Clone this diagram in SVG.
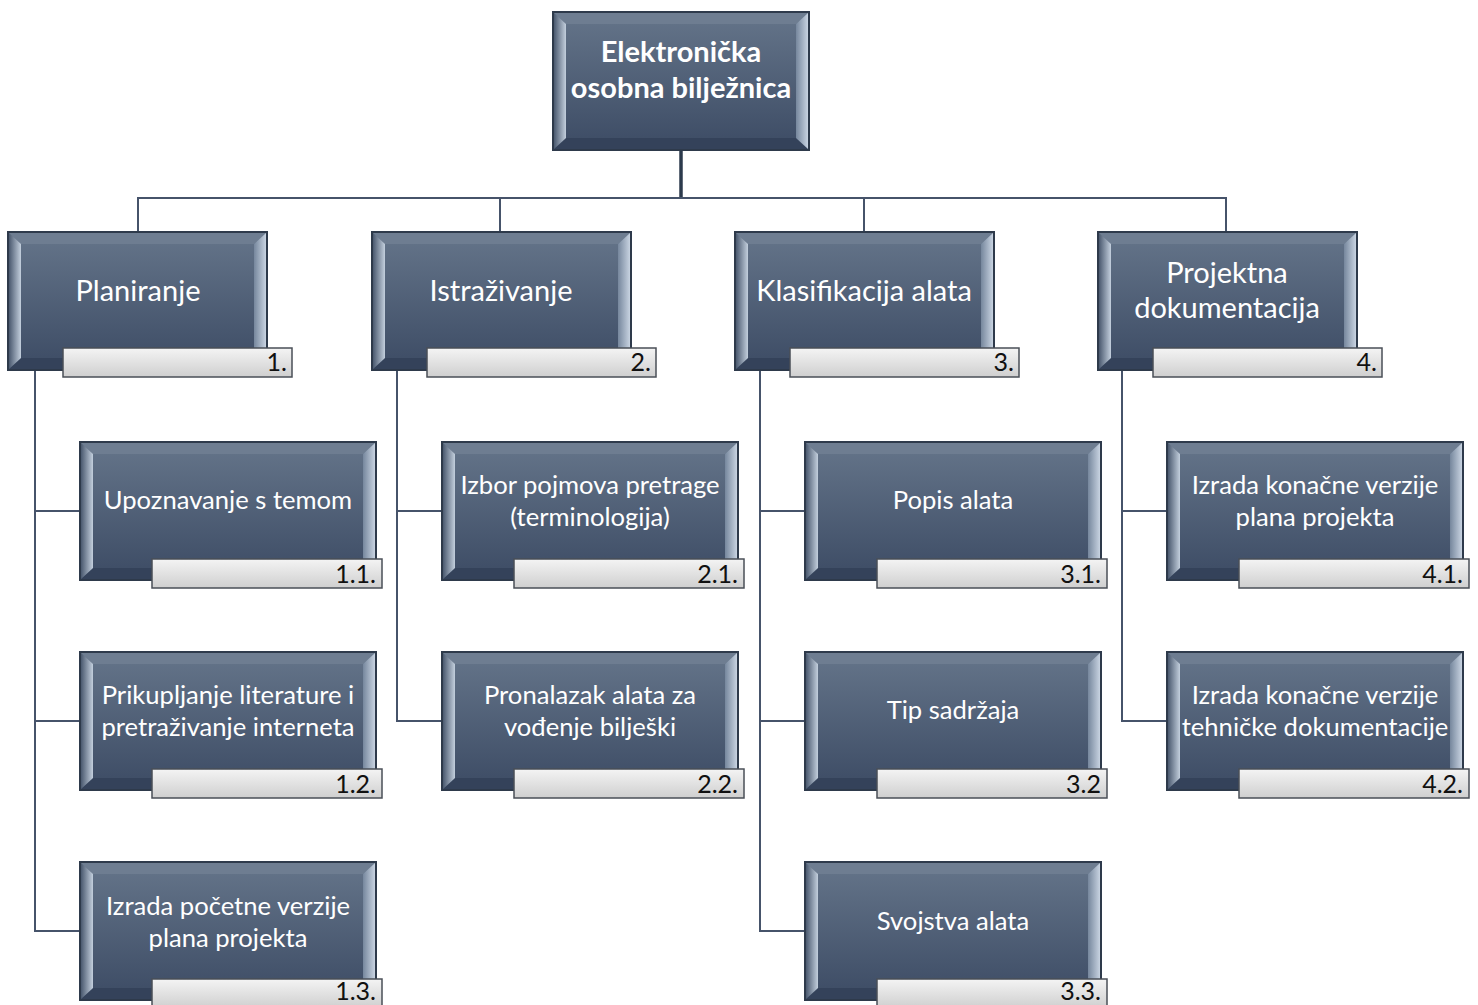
<svg xmlns="http://www.w3.org/2000/svg" xmlns:xlink="http://www.w3.org/1999/xlink" width="1478" height="1005" viewBox="0 0 1478 1005">
<style>
.t{font-family:Lato,"Open Sans","Liberation Sans",sans-serif;fill:#ffffff;text-anchor:middle}
.t0{font-size:29px;font-weight:bold}
.t1{font-size:29px}
.t2{font-size:25.6px}
.n{font-family:Lato,"Liberation Sans",sans-serif;font-size:25px;fill:#111;text-anchor:end}
.tag{fill:url(#gTag);stroke:#4a4f57;stroke-width:1.5}
.c{fill:none;stroke:#46536a;stroke-width:2}
.c0{fill:none;stroke:#2c3a4c;stroke-width:3.5}
</style>
<defs>
<linearGradient id="gFill" x1="0" y1="0" x2="0" y2="1">
<stop offset="0" stop-color="#65758a"/>
<stop offset="1" stop-color="#3c4b64"/>
</linearGradient>
<linearGradient id="bvL" x1="0" y1="0" x2="1" y2="0">
<stop offset="0" stop-color="#4a596f"/>
<stop offset="1" stop-color="#c3cfdd"/>
</linearGradient>
<linearGradient id="bvR" x1="0" y1="0" x2="1" y2="0">
<stop offset="0" stop-color="#76879d"/>
<stop offset="1" stop-color="#c8d3e1"/>
</linearGradient>
<linearGradient id="gTag" x1="0" y1="0" x2="0" y2="1">
<stop offset="0" stop-color="#f4f4f4"/>
<stop offset="1" stop-color="#cfcfcf"/>
</linearGradient>
<g id="bx0">
<rect x="0" y="0" width="256" height="138" fill="url(#gFill)" stroke="#2e3a4b" stroke-width="2"/>
<polygon points="1,1 255,1 243,12 13,12" fill="#6e7d91"/>
<polygon points="1,137 13,126 243,126 255,137" fill="#34425a"/>
<polygon points="1,1 13,12 13,126 1,137" fill="url(#bvL)"/>
<polygon points="255,1 243,12 243,126 255,137" fill="url(#bvR)"/>
</g>
<g id="bx1">
<rect x="0" y="0" width="259" height="138" fill="url(#gFill)" stroke="#2e3a4b" stroke-width="2"/>
<polygon points="1,1 258,1 246,12 13,12" fill="#6e7d91"/>
<polygon points="1,137 13,126 246,126 258,137" fill="#34425a"/>
<polygon points="1,1 13,12 13,126 1,137" fill="url(#bvL)"/>
<polygon points="258,1 246,12 246,126 258,137" fill="url(#bvR)"/>
</g>
<g id="bx2">
<rect x="0" y="0" width="296" height="138" fill="url(#gFill)" stroke="#2e3a4b" stroke-width="2"/>
<polygon points="1,1 295,1 283,12 13,12" fill="#6e7d91"/>
<polygon points="1,137 13,126 283,126 295,137" fill="#34425a"/>
<polygon points="1,1 13,12 13,126 1,137" fill="url(#bvL)"/>
<polygon points="295,1 283,12 283,126 295,137" fill="url(#bvR)"/>
</g>
</defs>
<rect width="1478" height="1005" fill="#ffffff"/>

<g id="connectors">
<path class="c0" d="M681,150 V198"/>
<path class="c" d="M138,232 V198 H1226 V232 M500,198 V232 M864,198 V232"/>
<path class="c" d="M35,370 V931 H80 M35,511 H80 M35,721 H80"/>
<path class="c" d="M397,370 V721 H442 M397,511 H442"/>
<path class="c" d="M760,370 V931 H805 M760,511 H805 M760,721 H805"/>
<path class="c" d="M1122,370 V721 H1167 M1122,511 H1167"/>
</g>

<g id="root">
<use xlink:href="#bx0" x="553" y="12"/>
<text class="t t0" x="681" y="62">Elektronička</text>
<text class="t t0" x="681" y="98">osobna bilježnica</text>
</g>

<g id="n1">
<use xlink:href="#bx1" x="8" y="232"/>
<text class="t t1" x="138" y="301">Planiranje</text>
<rect class="tag" x="63" y="348" width="229" height="29"/>
<text class="n" x="287" y="371">1.</text>
</g>
<g id="n2">
<use xlink:href="#bx1" x="372" y="232"/>
<text class="t t1" x="501" y="301">Istraživanje</text>
<rect class="tag" x="427" y="348" width="229" height="29"/>
<text class="n" x="651" y="371">2.</text>
</g>
<g id="n3">
<use xlink:href="#bx1" x="735" y="232"/>
<text class="t t1" x="864" y="301">Klasifikacija alata</text>
<rect class="tag" x="790" y="348" width="229" height="29"/>
<text class="n" x="1014" y="371">3.</text>
</g>
<g id="n4">
<use xlink:href="#bx1" x="1098" y="232"/>
<text class="t t1" x="1227" y="283">Projektna</text>
<text class="t t1" x="1227" y="318">dokumentacija</text>
<rect class="tag" x="1153" y="348" width="229" height="29"/>
<text class="n" x="1377" y="371">4.</text>
</g>

<g id="n1_1">
<use xlink:href="#bx2" x="80" y="442"/>
<text class="t t2" x="228" y="509">Upoznavanje s temom</text>
<rect class="tag" x="152" y="559" width="230" height="29"/>
<text class="n" x="376" y="583">1.1.</text>
</g>
<g id="n1_2">
<use xlink:href="#bx2" x="80" y="652"/>
<text class="t t2" x="228" y="704">Prikupljanje literature i</text>
<text class="t t2" x="228" y="736">pretraživanje interneta</text>
<rect class="tag" x="152" y="769" width="230" height="29"/>
<text class="n" x="376" y="793">1.2.</text>
</g>
<g id="n1_3">
<use xlink:href="#bx2" x="80" y="862"/>
<text class="t t2" x="228" y="915">Izrada početne verzije</text>
<text class="t t2" x="228" y="947">plana projekta</text>
<rect class="tag" x="152" y="979" width="230" height="29"/>
<text class="n" x="376" y="1000">1.3.</text>
</g>

<g id="n2_1">
<use xlink:href="#bx2" x="442" y="442"/>
<text class="t t2" x="590" y="494">Izbor pojmova pretrage</text>
<text class="t t2" x="590" y="526">(terminologija)</text>
<rect class="tag" x="514" y="559" width="230" height="29"/>
<text class="n" x="738" y="583">2.1.</text>
</g>
<g id="n2_2">
<use xlink:href="#bx2" x="442" y="652"/>
<text class="t t2" x="590" y="704">Pronalazak alata za</text>
<text class="t t2" x="590" y="736">vođenje bilješki</text>
<rect class="tag" x="514" y="769" width="230" height="29"/>
<text class="n" x="738" y="793">2.2.</text>
</g>

<g id="n3_1">
<use xlink:href="#bx2" x="805" y="442"/>
<text class="t t2" x="953" y="509">Popis alata</text>
<rect class="tag" x="877" y="559" width="230" height="29"/>
<text class="n" x="1101" y="583">3.1.</text>
</g>
<g id="n3_2">
<use xlink:href="#bx2" x="805" y="652"/>
<text class="t t2" x="953" y="719">Tip sadržaja</text>
<rect class="tag" x="877" y="769" width="230" height="29"/>
<text class="n" x="1101" y="793">3.2</text>
</g>
<g id="n3_3">
<use xlink:href="#bx2" x="805" y="862"/>
<text class="t t2" x="953" y="930">Svojstva alata</text>
<rect class="tag" x="877" y="979" width="230" height="29"/>
<text class="n" x="1101" y="1000">3.3.</text>
</g>

<g id="n4_1">
<use xlink:href="#bx2" x="1167" y="442"/>
<text class="t t2" x="1315" y="494">Izrada konačne verzije</text>
<text class="t t2" x="1315" y="526">plana projekta</text>
<rect class="tag" x="1239" y="559" width="230" height="29"/>
<text class="n" x="1463" y="583">4.1.</text>
</g>
<g id="n4_2">
<use xlink:href="#bx2" x="1167" y="652"/>
<text class="t t2" x="1315" y="704">Izrada konačne verzije</text>
<text class="t t2" x="1315" y="736">tehničke dokumentacije</text>
<rect class="tag" x="1239" y="769" width="230" height="29"/>
<text class="n" x="1463" y="793">4.2.</text>
</g>
</svg>
